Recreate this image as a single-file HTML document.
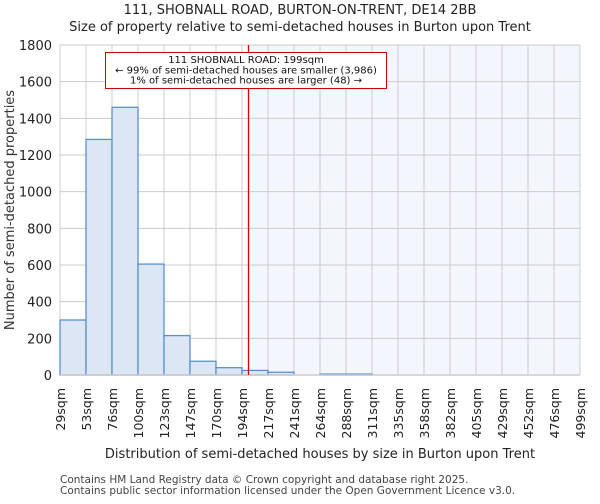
<!DOCTYPE html>
<html><head><meta charset="utf-8"><style>
body{margin:0;background:#fff;font-family:"DejaVu Sans","Liberation Sans",sans-serif;}
</style></head><body>
<svg id="chart" width="600" height="500" xmlns="http://www.w3.org/2000/svg" font-family="DejaVu Sans, Liberation Sans, sans-serif">
<text x="300" y="14" text-anchor="middle" font-size="13" fill="#222">111, SHOBNALL ROAD, BURTON-ON-TRENT, DE14 2BB</text>
<text x="300" y="31" text-anchor="middle" font-size="13" fill="#222">Size of property relative to semi-detached houses in Burton upon Trent</text>
<g id="plot"></g>
<text transform="translate(14,210) rotate(-90)" text-anchor="middle" font-size="13" fill="#333">Number of semi-detached properties</text>
<text x="320" y="458" text-anchor="middle" font-size="13" fill="#222">Distribution of semi-detached houses by size in Burton upon Trent</text>
<text x="60" y="483" font-size="10.5" fill="#444">Contains HM Land Registry data © Crown copyright and database right 2025.</text>
<text x="60" y="494" font-size="10.5" fill="#444">Contains public sector information licensed under the Open Government Licence v3.0.</text>
</svg>
<script>
const binLabels=["29sqm","53sqm","76sqm","100sqm","123sqm","147sqm","170sqm","194sqm","217sqm","241sqm","264sqm","288sqm","311sqm","335sqm","358sqm","382sqm","405sqm","429sqm","452sqm","476sqm","499sqm"];
const counts=[300,1285,1460,605,215,75,40,25,15,0,5,5,0,0,0,0,0,0,0,0];
const yTicks=[0,200,400,600,800,1000,1200,1400,1600,1800];
const propertyBinPos=7.25;
const NS="http://www.w3.org/2000/svg";
const L=60,R=580,T=45,B=375,yMax=1800;
const bw=(R-L)/counts.length;
const xs=i=>L+i*bw;
const ys=v=>B-(v/yMax)*(B-T);
const g=document.getElementById('plot');
function mk(t,a){const e=document.createElementNS(NS,t);for(const k in a)e.setAttribute(k,a[k]);g.appendChild(e);return e;}
const px=xs(propertyBinPos);
let sh=mk('rect',{x:px,y:T,width:R-px,height:B-T,fill:'#f3f6fd'});


yTicks.forEach(v=>{
 let l=mk('line',{x1:L,x2:R,y1:ys(v),y2:ys(v),stroke:'#ccc','stroke-width':1});
 
 
 let t=mk('text',{x:L-8,y:ys(v)+5,'text-anchor':'end','font-size':13,fill:'#222'});
 t.textContent=v;
 
 
});
binLabels.forEach((s,i)=>{
 let l=mk('line',{x1:xs(i),x2:xs(i),y1:T,y2:B,stroke:'#ccc','stroke-width':1});
 
 
 let t=mk('text',{transform:`translate(${xs(i)+5},388) rotate(-90)`,'text-anchor':'end','font-size':12.5,fill:'#222'});
 t.textContent=s;
 
 
});
counts.forEach((c,i)=>{
 if(c<=0)return;
 let r=mk('rect',{x:xs(i),y:ys(c),width:bw,height:B-ys(c),fill:'#dce6f4',stroke:'#5b8fd6','stroke-width':1.3});
 
 
});
let ax=mk('line',{x1:L,x2:R,y1:B,y2:B,stroke:'#ccc','stroke-width':1.5});


let rl=mk('line',{x1:px,x2:px,y1:T,y2:B,stroke:'#d00','stroke-width':1.3});


let box=mk('rect',{x:105.5,y:52.5,width:281,height:36,fill:'#fff',stroke:'#c00','stroke-width':1});


["111 SHOBNALL ROAD: 199sqm","← 99% of semi-detached houses are smaller (3,986)","1% of semi-detached houses are larger (48) →"].forEach((s,i)=>{
 let t=mk('text',{x:246,y:63+i*10.3,'text-anchor':'middle','font-size':10,fill:'#111'});
 t.textContent=s;
 
 
});
</script>
</body></html>
